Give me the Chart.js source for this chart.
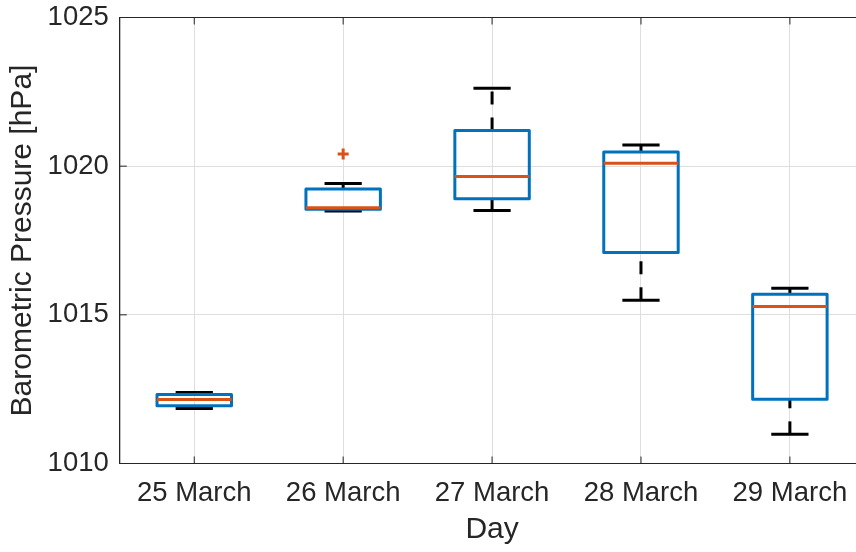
<!DOCTYPE html>
<html>
<head>
<meta charset="utf-8">
<script src="https://cdn.jsdelivr.net/npm/chart.js@4"></script>
<style>
  html, body { margin: 0; padding: 0; overflow: hidden; background: #fff; }
  #c { display: block; width: 856px; height: 552px; }
</style>
</head>
<body>
<canvas id="c" width="856" height="552"></canvas>
<script>
// Daily barometric pressure statistics (hPa)
const days = ['25 March', '26 March', '27 March', '28 March', '29 March'];
const lowerWhisker = [1011.85, 1018.49, 1018.51, 1015.49, 1010.98];
const q1           = [1011.94, 1018.55, 1018.90, 1017.10, 1012.16];
const medians      = [1012.15, 1018.60, 1019.65, 1020.10, 1015.28];
const q3           = [1012.32, 1019.23, 1021.20, 1020.48, 1015.69];
const upperWhisker = [1012.39, 1019.42, 1022.62, 1020.71, 1015.89];
const outlierDay   = [2];
const outlierValue = [1020.41];
const yTicks = [1010, 1015, 1020, 1025];

const AXIS = '#262626';
const BLUE = '#0072BD';
const ORANGE = '#D95319';
const FONT = "'Liberation Sans', Arial, Helvetica, sans-serif";

function seg(ctx, x1, y1, x2, y2) {
  ctx.beginPath();
  ctx.moveTo(x1, y1);
  ctx.lineTo(x2, y2);
  ctx.stroke();
}

// Box, whiskers, caps and median for each day
const boxPlot = {
  id: 'boxPlot',
  beforeDatasetsDraw(chart) {
    const { ctx, chartArea: a, scales: { x, y } } = chart;
    const unit = x.getPixelForValue(2) - x.getPixelForValue(1);
    ctx.save();
    ctx.beginPath();
    ctx.rect(a.left, a.top, a.right - a.left, a.bottom - a.top);
    ctx.clip();
    days.forEach((d, i) => {
      const cx = x.getPixelForValue(i + 1);
      const half = unit * 0.25;
      const capHalf = unit * 0.125;
      const yLo = y.getPixelForValue(lowerWhisker[i]);
      const yQ1 = y.getPixelForValue(q1[i]);
      const yMed = y.getPixelForValue(medians[i]);
      const yQ3 = y.getPixelForValue(q3[i]);
      const yHi = y.getPixelForValue(upperWhisker[i]);

      // dashed whiskers
      ctx.strokeStyle = '#000';
      ctx.lineWidth = 3;
      ctx.lineCap = 'butt';
      ctx.setLineDash([13, 13]);
      seg(ctx, cx, yQ3, cx, yHi);
      seg(ctx, cx, yLo, cx, yQ1);
      ctx.setLineDash([]);

      // whisker caps
      seg(ctx, cx - capHalf, yHi, cx + capHalf, yHi);
      seg(ctx, cx - capHalf, yLo, cx + capHalf, yLo);

      // box
      ctx.strokeStyle = BLUE;
      ctx.lineJoin = 'round';
      ctx.strokeRect(cx - half, yQ3, half * 2, yQ1 - yQ3);

      // median
      ctx.strokeStyle = ORANGE;
      seg(ctx, cx - half, yMed, cx + half, yMed);
    });
    ctx.restore();
  }
};

// Axes box edges, inward tick marks and the x-axis title
const frame = {
  id: 'frame',
  afterDatasetsDraw(chart) {
    const { ctx, chartArea: a, scales: { x, y } } = chart;
    ctx.save();
    ctx.strokeStyle = AXIS;
    ctx.lineWidth = 1;
    seg(ctx, a.left, a.top, a.right, a.top);
    seg(ctx, a.left, a.top, a.left, a.bottom);
    seg(ctx, a.left, a.bottom, a.right, a.bottom);
    const tl = 7;
    yTicks.forEach(v => {
      const py = y.getPixelForValue(v);
      seg(ctx, a.left, py, a.left + tl, py);
    });
    days.forEach((d, i) => {
      const px = x.getPixelForValue(i + 1);
      seg(ctx, px, a.bottom, px, a.bottom - tl);
      seg(ctx, px, a.top, px, a.top + tl);
    });
    // x-axis title centred on the middle day
    ctx.fillStyle = AXIS;
    ctx.font = '30px ' + FONT;
    ctx.textAlign = 'center';
    ctx.textBaseline = 'alphabetic';
    ctx.fillText('Day', x.getPixelForValue(3), 537.5);
    ctx.restore();
  }
};

new Chart(document.getElementById('c'), {
  type: 'scatter',
  data: {
    datasets: [{
      label: 'Outliers',
      data: outlierDay.map((d, i) => ({ x: d, y: outlierValue[i] })),
      pointStyle: 'cross',
      radius: 5.5,
      borderWidth: 3,
      borderColor: ORANGE,
      backgroundColor: ORANGE
    }]
  },
  options: {
    responsive: false,
    devicePixelRatio: 1,
    animation: false,
    layout: { autoPadding: false, padding: { top: 17.5, left: 0, right: 0, bottom: 0 } },
    plugins: { legend: { display: false }, tooltip: { enabled: false } },
    scales: {
      x: {
        type: 'linear',
        min: 0.5,
        max: 5.444,
        afterBuildTicks(scale) { scale.ticks = days.map((d, i) => ({ value: i + 1 })); },
        afterFit(scale) {
          scale.height = 88.5;
          scale.paddingLeft = 0;
          scale.paddingRight = 0;
        },
        grid: { color: '#dedede', lineWidth: 1, drawTicks: false },
        border: { display: true, color: AXIS, width: 1 },
        ticks: {
          color: AXIS,
          font: { family: FONT, size: 27.5 },
          padding: 13,
          maxRotation: 0,
          callback: v => days[v - 1]
        },
        title: { display: false }
      },
      y: {
        min: 1010,
        max: 1025,
        afterBuildTicks(scale) { scale.ticks = yTicks.map(v => ({ value: v })); },
        afterFit(scale) {
          scale.width = 119.8;
          scale.paddingTop = 0;
          scale.paddingBottom = 0;
        },
        grid: { color: '#dedede', lineWidth: 1, drawTicks: false },
        border: { display: true, color: AXIS, width: 1 },
        ticks: {
          color: AXIS,
          font: { family: FONT, size: 27.5 },
          padding: 11,
          callback: v => String(v)
        },
        title: {
          display: true,
          text: 'Barometric Pressure [hPa]',
          color: AXIS,
          font: { family: FONT, size: 30 },
          padding: { top: 4.5, bottom: 0 }
        }
      }
    }
  },
  plugins: [boxPlot, frame]
});
</script>
</body>
</html>
